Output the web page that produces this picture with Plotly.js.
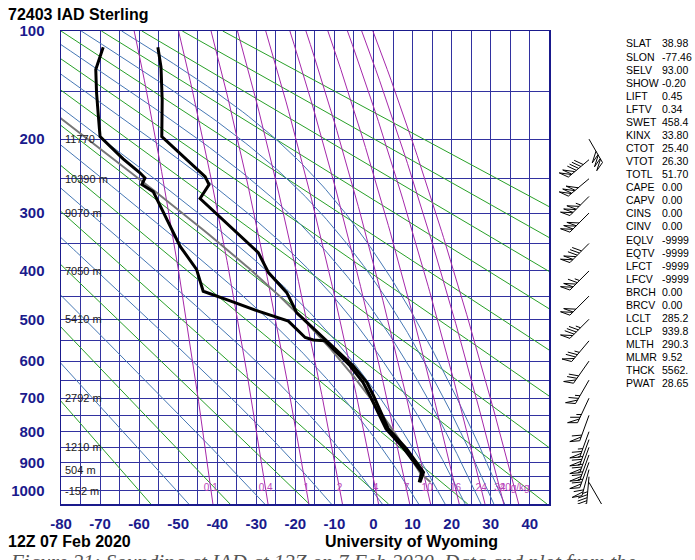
<!DOCTYPE html>
<html><head><meta charset="utf-8">
<script src="https://cdn.plot.ly/plotly-3.0.1.min.js"></script>
<style>body{margin:0;background:#fff}#chart{width:695px;height:560px}</style>
</head><body><div id="chart"></div>
<script>
// ---------------- data ----------------
const tempP = [970, 934, 855, 791, 693, 656, 612, 547, 507, 485, 443, 403, 366, 278, 258, 247, 197, 158, 128, 112];
const tempT = [11.9, 12.8, 8.5, 3.8, 0.0, -1.7, -5.2, -12.4, -17.1, -19.7, -22.2, -26.9, -29.5, -44.4, -42.1, -43.1, -54.2, -54.1, -54.4, -55.2];
const dwptP = [970, 934, 855, 791, 693, 656, 612, 550, 548, 542, 504, 496, 481, 460, 440, 397, 355, 268, 258, 249, 242, 224, 197, 171, 151, 130, 124, 112];
const dwptT = [11.7, 12.3, 7.8, 3.2, -0.9, -2.7, -6.0, -12.4, -15.4, -17.5, -21.8, -24.8, -29.9, -36.7, -43.6, -45.3, -49.5, -56.4, -59.3, -58.5, -59.8, -64.1, -70.0, -70.5, -70.9, -71.1, -70.5, -69.2];

const windP   = [970, 950, 925, 900, 875, 850, 825, 800, 750, 700, 650, 600, 550, 500, 450, 400, 350, 300, 275, 250, 225, 200];
const windDir = [150, 185, 195, 200, 200, 200, 200, 200, 200, 205, 210, 215, 220, 225, 225, 225, 225, 225, 225, 230, 230, 150];
const windSpd = [10, 45, 60, 65, 65, 65, 65, 65, 60, 65, 65, 70, 75, 85, 100, 115, 130, 150, 155, 150, 140, 150];

const heightP    = [200, 250, 300, 400, 500, 700, 850, 925, 1000];
const heightText = ['11770', '10390 m', '9070 m', '7050 m', '5410 m', '2792 m', '1210 m', '504 m', '-152 m'];

const mixRatios = [0.1, 0.4, 1, 2, 4, 7, 10, 16, 24, 32, 40];
const mixLabels = ['0.1', '0.4', '1', '2', '4', '7', '10', '16', '24', '32', '40g/kg'];

const pressureTicks = [100, 200, 300, 400, 500, 600, 700, 800, 900, 1000];
const tempTicks = [-80, -70, -60, -50, -40, -30, -20, -10, 0, 10, 20, 30, 40];

const indexNames  = ['SLAT','SLON','SELV','SHOW','LIFT','LFTV','SWET','KINX','CTOT','VTOT','TOTL','CAPE','CAPV','CINS','CINV','EQLV','EQTV','LFCT','LFCV','BRCH','BRCV','LCLT','LCLP','MLTH','MLMR','THCK','PWAT'];
const indexValues = ['38.98','-77.46','93.00','-0.20','0.45','0.34','458.4','33.80','25.40','26.30','51.70','0.00','0.00','0.00','0.00','-9999','-9999','-9999','-9999','0.00','0.00','285.2','939.8','290.3','9.52','5562.','28.65'];

const LCLP = 939.8, LCLT = 285.2, MLTH = 290.3;

// ---------------- thermodynamic helpers (diagram scaffolding) ----------------
const KAPPA = 0.286;
const pk = p => Math.pow(p, KAPPA);
const Rd = 287.04, Cp = 1005.7, Lv = 2.501e6, EPS = 0.622;
const esat = tc => 6.112 * Math.exp(17.67 * tc / (tc + 243.5));
function dTdp(p, T) {
  const es = esat(T - 273.15), rs = EPS * es / (p - es);
  return (Rd * T + Lv * rs) / (p * (Cp + Lv * Lv * rs * EPS / (Rd * T * T)));
}
function moistPath(T0, p0, pEnd, step) {
  const n = Math.max(1, Math.round(Math.abs(pEnd - p0) / step)), h = (pEnd - p0) / n;
  let p = p0, T = T0; const P = [p], TT = [T];
  for (let i = 0; i < n; i++) {
    const k1 = dTdp(p, T), k2 = dTdp(p + h / 2, T + h / 2 * k1),
          k3 = dTdp(p + h / 2, T + h / 2 * k2), k4 = dTdp(p + h, T + h * k3);
    T += h / 6 * (k1 + 2 * k2 + 2 * k3 + k4); p += h; P.push(p); TT.push(T);
  }
  return { P, T: TT };
}
const presLevels = []; for (let p = 1050; p >= 100; p -= 10) presLevels.push(p);

const GREEN = 'rgb(40,160,40)', BLUE = 'rgb(70,120,180)', PURPLE = 'rgb(165,40,170)';
const traces = [];
function addLine(xs, ys, color, width, ax) {
  traces.push({ type: 'scatter', mode: 'lines', x: xs, y: ys, line: { color, width }, hoverinfo: 'skip', xaxis: ax ? ax[0] : 'x', yaxis: ax ? ax[1] : 'y' });
}

// dry adiabats
for (let th = 213.15; th <= 453.2; th += 20) {
  addLine(presLevels.map(p => th * Math.pow(p / 1000, KAPPA) - 273.15), presLevels.map(pk), GREEN, 1);
}
// moist adiabats (labelled by asymptotic potential temperature)
function topTheta(T0) { const r = moistPath(T0, 1000, 100, 10); return r.T[r.T.length - 1] * Math.pow(10, KAPPA); }
for (let the = 223.15; the <= 403.2; the += 20) {
  let lo = 200, hi = 318;
  for (let i = 0; i < 40; i++) { const m = (lo + hi) / 2; if (topTheta(m) < the) lo = m; else hi = m; }
  const T0 = (lo + hi) / 2;
  const up = moistPath(T0, 1000, 100, 5), dn = moistPath(T0, 1000, 1050, 5);
  const P = dn.P.slice().reverse().concat(up.P.slice(1)), T = dn.T.slice().reverse().concat(up.T.slice(1));
  addLine(T.map(t => t - 273.15), P.map(pk), BLUE, 1);
}
// mixing ratio lines
const mixT = (w, p) => { const e = w * p / (622 + w), l = Math.log(e / 6.112); return 243.5 * l / (17.67 - l); };
mixRatios.forEach(w => addLine(presLevels.map(p => mixT(w, p)), presLevels.map(pk), PURPLE, 1));
traces.push({ type: 'scatter', mode: 'text', x: mixRatios.map(w => mixT(w, 992)), y: mixRatios.map(() => pk(992)),
  text: mixLabels, textfont: { family: 'Liberation Sans, Arial, sans-serif', size: 10, color: 'rgb(185,70,185)' }, hoverinfo: 'skip' });

// parcel path
{
  const dryP = []; for (let p = tempP[0]; p > LCLP; p -= 5) dryP.push(p); dryP.push(LCLP);
  const wet = moistPath(LCLT, LCLP, 100, 5);
  const P = dryP.concat(wet.P.slice(1));
  const T = dryP.map(p => MLTH * Math.pow(p / 1000, KAPPA) - 273.15).concat(wet.T.slice(1).map(t => t - 273.15));
  addLine(T, P.map(pk), 'rgb(120,120,120)', 2);
}
// sounding
addLine(dwptT, dwptP.map(pk), 'black', 3);
addLine(tempT, tempP.map(pk), 'black', 3);

// ---------------- wind barbs (pixel geometry on x2/y2) ----------------
const Y0 = pk(1050), Y1 = pk(100), PLOT_H = 473;
const pxPerPk = PLOT_H / (Y0 - Y1);
const BARB_X = 589;
{
  const bx = [], by = [];
  const rad = d => d * Math.PI / 180;
  const brk = () => { bx.push(null); by.push(null); };
  windP.forEach((p, i) => {
    const dir = windDir[i], base = pk(p);
    const u = [Math.sin(rad(dir)), -Math.cos(rad(dir))];
    const b = [Math.sin(rad(dir + 65)) * 10, -Math.cos(rad(dir + 65)) * 10];
    const pt = (d, ox, oy) => { bx.push(BARB_X + d * u[0] + ox); by.push(base + (d * u[1] + oy) / pxPerPk); };
    const L = 27;
    pt(0, 0, 0); pt(L, 0, 0); brk();
    let s = Math.round(windSpd[i] / 5) * 5, pos = L;
    const flags = Math.floor(s / 50); s -= flags * 50;
    const full = Math.floor(s / 10); s -= full * 10;
    for (let f = 0; f < flags; f++) { pt(pos, 0, 0); pt(pos, b[0], b[1]); pt(pos - 4, 0, 0); brk(); pos -= 4.5; }
    if (flags) pos -= 1.5;
    for (let f = 0; f < full; f++) { pt(pos, 0, 0); pt(pos, b[0], b[1]); brk(); pos -= 3; }
    if (s >= 5) { if (flags + full === 0) pos -= 3; pt(pos, 0, 0); pt(pos, b[0] / 2, b[1] / 2); brk(); }
  });
  traces.push({ type: 'scatter', mode: 'lines', x: bx, y: by, line: { color: 'black', width: 1 }, hoverinfo: 'skip', xaxis: 'x2', yaxis: 'y2' });
}

// ---------------- layout ----------------
const GRID = 'rgb(50,50,160)', NAVY = 'rgb(26,26,140)';
const FONT = 'Liberation Sans, Arial, sans-serif';
const xTickVals = [], xTickText = [];
for (let t = -80; t <= 40; t += 5) { xTickVals.push(t); xTickText.push(tempTicks.includes(t) ? '<b>' + t + '</b>' : ''); }
const yTickVals = [], yTickText = [];
for (let p = 100; p <= 1000; p += 50) { yTickVals.push(pk(p)); yTickText.push(pressureTicks.includes(p) ? '<b>' + p + '</b>' : ''); }

const W = 574, L0 = 61;
const px = x => (x - L0) / W, py = y => (504 - y) / PLOT_H;
const annotations = [];
annotations.push({ xref: 'paper', yref: 'paper', x: px(6), y: py(14), xanchor: 'left', yanchor: 'middle', showarrow: false,
  text: '<b>72403 IAD Sterling</b>', font: { family: FONT, size: 16, color: 'black' } });
annotations.push({ xref: 'paper', yref: 'paper', x: px(6), y: py(541), xanchor: 'left', yanchor: 'middle', showarrow: false,
  text: '<b>12Z 07 Feb 2020</b>', font: { family: FONT, size: 16, color: 'black' } });
annotations.push({ xref: 'paper', yref: 'paper', x: px(411), y: py(541), xanchor: 'center', yanchor: 'middle', showarrow: false,
  text: '<b>University of Wyoming</b>', font: { family: FONT, size: 16, color: 'black' } });
annotations.push({ xref: 'paper', yref: 'paper', x: px(8), y: py(562), xanchor: 'left', yanchor: 'middle', showarrow: false,
  text: '<i>Figure 21: Sounding at IAD at 12Z on 7 Feb 2020. Data and plot from the</i>', font: { family: 'Liberation Serif, serif', size: 21, color: '#555' } });
heightP.forEach((p, i) => annotations.push({ xref: 'x', yref: 'y', x: -79.6, y: pk(p), xanchor: 'left', yanchor: 'middle', showarrow: false,
  text: heightText[i], font: { family: FONT, size: 11, color: '#222' } }));
indexNames.forEach((n, i) => {
  const y = 43.5 + i * 13.07;
  annotations.push({ xref: 'paper', yref: 'paper', x: px(624), y: py(y), xanchor: 'left', yanchor: 'middle', showarrow: false, text: n, font: { family: FONT, size: 10.5, color: 'black' } });
  annotations.push({ xref: 'paper', yref: 'paper', x: px(660), y: py(y), xanchor: 'left', yanchor: 'middle', showarrow: false, text: indexValues[i], font: { family: FONT, size: 10.5, color: 'black' } });
});

const layout = {
  width: 695, height: 560, margin: { l: 61, r: 60, t: 31, b: 56, pad: 0 },
  paper_bgcolor: 'white', plot_bgcolor: 'white', showlegend: false,
  xaxis: { domain: [0, 488.3 / W], range: [-80, 45], tickmode: 'array', tickvals: xTickVals, ticktext: xTickText,
    showgrid: true, gridcolor: GRID, gridwidth: 1, zeroline: false, showline: true, linecolor: NAVY, linewidth: 1.5, mirror: true,
    ticks: 'outside', ticklen: 5, tickcolor: 'rgba(0,0,0,0)', tickfont: { family: FONT, size: 15, color: NAVY }, fixedrange: true },
  yaxis: { range: [Y0, Y1], tickmode: 'array', tickvals: yTickVals, ticktext: yTickText,
    showgrid: true, gridcolor: GRID, gridwidth: 1, zeroline: false, showline: true, linecolor: NAVY, linewidth: 1.5, mirror: true,
    ticks: 'outside', ticklen: 12, tickcolor: 'rgba(0,0,0,0)', tickfont: { family: FONT, size: 15, color: NAVY }, fixedrange: true },
  xaxis2: { domain: [488.3 / W, 1], range: [549.3, 635], visible: false, anchor: 'y2', fixedrange: true },
  yaxis2: { domain: [0, 1], range: [Y0, Y1], visible: false, anchor: 'x2', fixedrange: true },
  annotations
};
Plotly.newPlot('chart', traces, layout, { displayModeBar: false, staticPlot: true });
</script></body></html>
